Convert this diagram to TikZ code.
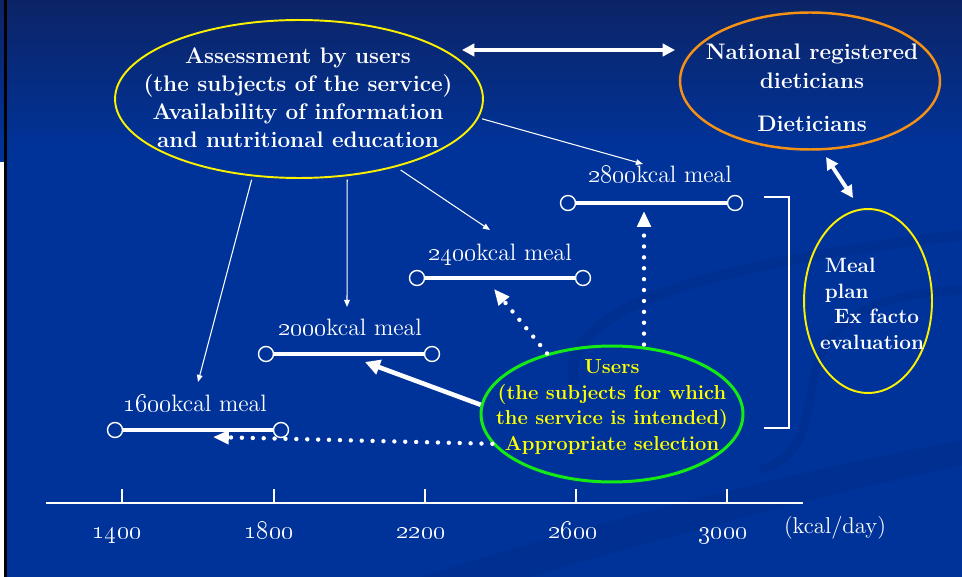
\documentclass[tikz,border=0pt]{standalone}
\usepackage{tikz}
\usetikzlibrary{shapes.geometric,arrows.meta}

\definecolor{slideblue}{RGB}{0,51,153}
\definecolor{slidenavy}{RGB}{12,36,102}
\definecolor{swirl}{RGB}{0,40,130}
\definecolor{ringyellow}{RGB}{250,240,0}
\definecolor{ringorange}{RGB}{245,145,20}
\definecolor{ringgreen}{RGB}{20,235,20}
\definecolor{labelyellow}{RGB}{255,255,0}

\tikzset{
  ring/.style={ellipse,draw,line width=1.1pt,inner sep=0pt},
  boldtext/.style={text=white,font=\bfseries\fontsize{12.8}{15.9}\selectfont,align=center},
  mealtext/.style={text=white,font=\fontsize{13.5}{16}\selectfont,anchor=base},
  numtext/.style={text=white,font=\fontsize{15}{17}\selectfont,anchor=base},
  knob/.style={circle,draw=white,line width=0.8pt,minimum size=0.3cm,inner sep=0pt},
  bar/.style={white,line width=2.8pt},
  thin/.style={white,line width=0.6pt,-{Triangle[length=4pt,width=3.2pt]}},
  fat/.style={white,line width=2.6pt,-{Triangle[length=8.5pt,width=8.5pt]}},
  twoway/.style={white,line width=2.2pt,{Triangle[length=7pt,width=7pt]}-{Triangle[length=7pt,width=7pt]}},
  dots/.style={white,line width=2.5pt,line cap=round,dash pattern=on 0pt off 6.2pt,-{Triangle[length=9pt,width=7.5pt]}}
}

\begin{document}
\begin{tikzpicture}[x=0.02cm,y=-0.02cm]
    % slide background
    \useasboundingbox (0,0) rectangle (962,577);
    \fill[slideblue] (0,0) rectangle (962,577);
    \shade[top color=slidenavy,bottom color=slideblue] (0,0) rectangle (962,150);
    \fill[white] (0,162) rectangle (4,577);
    \fill[black] (4,0) rectangle (7,577);
    \draw[swirl,line width=6pt,opacity=.3] (575,385) .. controls (555,310) and (700,265) .. (962,235);
    \draw[swirl,line width=5pt,opacity=.3] (760,470) .. controls (860,440) and (740,300) .. (962,290);
    \fill[swirl,opacity=.3] (420,577) .. controls (600,520) and (800,470) .. (962,440) -- (962,465) .. controls (800,500) and (620,550) .. (530,577) -- cycle;

    % the four groups
    \node[ring,draw=ringyellow,minimum width=7.36cm,minimum height=3.16cm] (assess) at (299,99) {};
    \node[boldtext] (assesstxt) at (298,98) {Assessment by users\\(the subjects of the service)\\Availability of information\\and nutritional education};

    \node[ring,draw=ringorange,line width=1.4pt,minimum width=5.2cm,minimum height=2.74cm] (natl) at (810,81) {};
    \node[boldtext,font=\bfseries\fontsize{12.8}{16.4}\selectfont] (natltxt) at (812,88) {National registered\\dieticians\\[8pt]Dieticians};

    \node[ring,draw=ringyellow,minimum width=2.56cm,minimum height=3.68cm] (plan) at (868,301) {};
    \node[text=white,font=\bfseries\fontsize{11.8}{14.6}\selectfont,align=left] (plantxt) at (872,304) {\hspace*{2.8pt}Meal\\\hspace*{2.8pt}plan\\\hspace*{8pt}Ex facto\\evaluation};

    \node[ring,draw=ringgreen,line width=1.7pt,minimum width=5.24cm,minimum height=2.72cm] (users) at (612,414) {};
    \node[boldtext,text=labelyellow,font=\bfseries\fontsize{11.5}{14.7}\selectfont] (userstxt) at (612,407) {Users\\(the subjects for which\\the service is intended)\\Appropriate selection};

    % meal ranges
    \node[knob] (m16a) at (115,430) {};
    \node[knob] (m16b) at (281,430) {};
    \draw[bar] (m16a) -- (m16b);
    \node[mealtext] (m16) at (195,411) {\oldstylenums{1600}kcal meal};

    \node[knob] (m20a) at (266,354) {};
    \node[knob] (m20b) at (432,354) {};
    \draw[bar] (m20a) -- (m20b);
    \node[mealtext] (m20) at (350,335) {\oldstylenums{2000}kcal meal};

    \node[knob] (m24a) at (417,278) {};
    \node[knob] (m24b) at (583,278) {};
    \draw[bar] (m24a) -- (m24b);
    \node[mealtext] (m24) at (500,260) {\oldstylenums{2400}kcal meal};

    \node[knob] (m28a) at (568,203) {};
    \node[knob] (m28b) at (735,203) {};
    \draw[bar] (m28a) -- (m28b);
    \node[mealtext] (m28) at (660,183) {\oldstylenums{2800}kcal meal};

    % assessment feeds every range
    \coordinate (t16) at (198,382);
    \coordinate (t20) at (347,307);
    \coordinate (t24) at (490,230);
    \coordinate (t28) at (643,164);
    \draw[thin,shorten <=2pt] (assess.-121) -- (t16);
    \draw[thin,shorten <=2pt] (assess.-58) -- (t20);
    \draw[thin,shorten <=3pt] (assess.-35) -- (t24);
    \draw[thin,shorten <=2pt] (assess.-6) -- (t28);

    % links between the groups
    \coordinate (hl) at (462,50);
    \coordinate (hr) at (675,50);
    \draw[twoway] (hl) -- (hr);
    \coordinate (vl) at (826,157);
    \coordinate (vr) at (853,198);
    \draw[twoway] (vl) -- (vr);

    % users pick a range
    \coordinate (u16) at (213,437);
    \coordinate (u20) at (365,362);
    \coordinate (u24) at (494,289);
    \coordinate (u28) at (644,211);
    \draw[fat] (users.176) -- (u20);
    \draw[dots] (users.194) -- (u16);
    \draw[dots] (users.137) -- (u24);
    \draw[dots] (u28 |- users.north) -- (u28);

    % bracket over the ranges
    \draw[white,line width=1.1pt] (764,197) -- (789,197) -- (789,428) -- (764,428);

    % energy axis
    \draw[white,line width=1.2pt] (46,503) -- (803,503);
    \draw[white,line width=1.1pt] (122,489) -- (122,503);
    \draw[white,line width=1.1pt] (274,489) -- (274,503);
    \draw[white,line width=1.1pt] (425,489) -- (425,503);
    \draw[white,line width=1.1pt] (576,489) -- (576,503);
    \draw[white,line width=1.1pt] (727,489) -- (727,503);
    \node[numtext] (n14) at (117,538) {\oldstylenums{1400}};
    \node[numtext] (n18) at (269,538) {\oldstylenums{1800}};
    \node[numtext] (n22) at (421,538) {\oldstylenums{2200}};
    \node[numtext] (n26) at (573,538) {\oldstylenums{2600}};
    \node[numtext] (n30) at (723,538) {\oldstylenums{3000}};
    \node[numtext,font=\fontsize{13}{15}\selectfont] (unit) at (835,533) {(kcal/day)};
\end{tikzpicture}
\end{document}
